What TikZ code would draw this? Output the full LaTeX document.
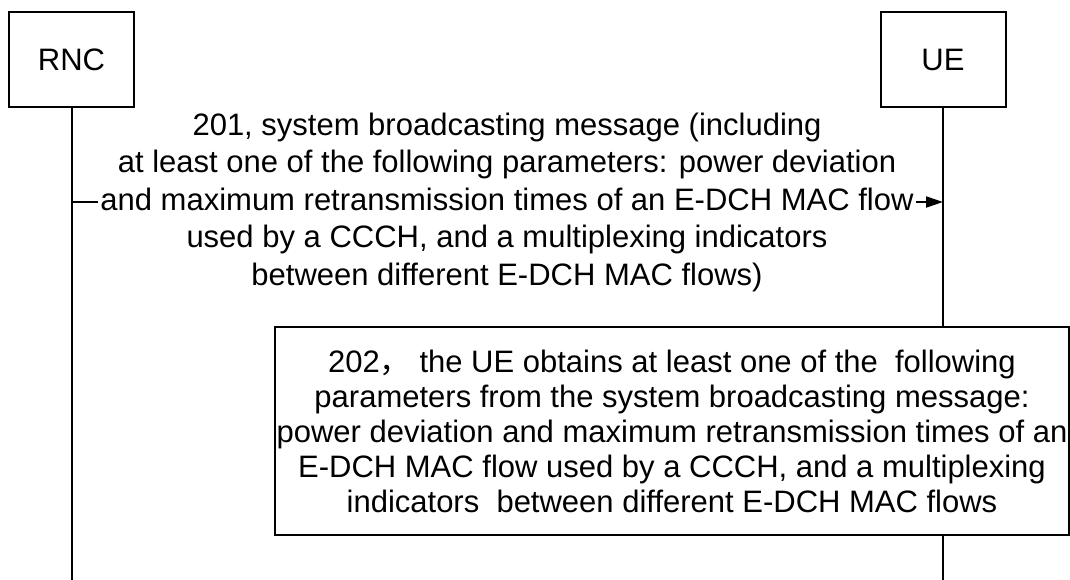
\documentclass[tikz,border=0pt]{standalone}
\usepackage{fontspec}
\setmainfont{Liberation Sans}
\newfontfamily\cjk{Noto Sans CJK SC}
\usetikzlibrary{arrows.meta}
\begin{document}
\begin{tikzpicture}[x=1pt,y=-1pt,
  entity/.style={draw, line width=2pt, minimum width=125pt, minimum height=95pt, inner sep=0pt, font=\fontsize{31}{37}\selectfont},
  life/.style={line width=2pt},
  msgtext/.style={fill=white, inner xsep=2pt, inner ysep=0pt, align=center, font=\fontsize{31}{37.5}\selectfont},
  procbox/.style={draw, line width=2pt, fill=white, minimum width=794pt, minimum height=208pt, inner xsep=2pt, align=center, font=\fontsize{31}{35}\selectfont},
  msgarrow/.style={line width=2pt, -{Triangle[length=17pt,width=11pt]}}]
\useasboundingbox (0,0) rectangle (1070,580);
\node[entity] (rnc) at (71.5,60) {RNC};
\node[entity] (ue) at (943,60) {UE};
\node[procbox] (proc) at (672,431) {202{\cjk ，} the UE obtains at least one of the\ \ following\\
parameters from the system broadcasting message:\\
power deviation and maximum retransmission times of an\\
E-DCH MAC flow used by a CCCH, and a multiplexing\\
indicators\ \ between different E-DCH MAC flows};
\coordinate (rncend) at (71.5,580);
\coordinate (ueend) at (943,580);
\coordinate (msgc) at (507,202);
\draw[life] (rnc.south) -- (rncend);
\draw[life] (ue.south) -- (ue.south |- proc.north);
\draw[life] (ue.south |- proc.south) -- (ueend);
\draw[msgarrow] (rnc.south |- msgc) -- (ue.south |- msgc);
\node[msgtext] (msg) at (msgc) {201, system broadcasting message (including\\
at least one of the following parameters: power deviation\\
and maximum retransmission times of an E-DCH MAC flow\\
used by a CCCH, and a multiplexing indicators\\
between different E-DCH MAC flows)};
\end{tikzpicture}
\end{document}
